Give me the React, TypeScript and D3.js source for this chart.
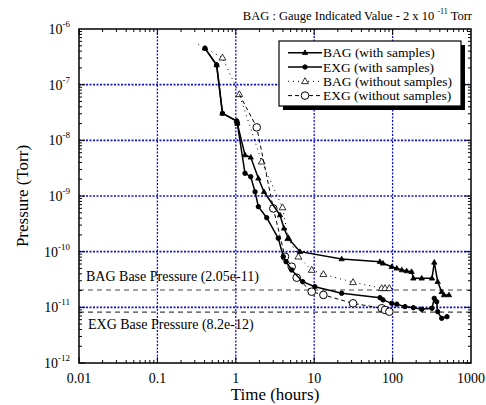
import React, { useEffect, useRef } from 'react';
import * as d3 from 'd3';

// time in hours, pressure in Torr
const bagWithT = [0.405, 0.57, 0.676, 1.03, 1.045, 1.31, 1.55, 1.94, 2.29, 3.66, 4.12, 4.67, 6.59, 22.4, 69, 75.5, 97.5, 113, 131, 151, 175, 184, 235, 318, 340, 376, 423, 452, 524];
const bagWithP = [4.5e-7, 2.26e-7, 3.06e-8, 2.22e-8, 2.02e-8, 5.45e-9, 4.96e-9, 2.08e-9, 1.19e-9, 4.56e-10, 2.63e-10, 1.74e-10, 1.0e-10, 7.4e-11, 6.61e-11, 6.18e-11, 5.37e-11, 5.03e-11, 4.69e-11, 4.5e-11, 4.37e-11, 3.33e-11, 3.33e-11, 3.33e-11, 6.44e-11, 2.89e-11, 1.9e-11, 1.67e-11, 1.67e-11];

const exgWithT = [0.405, 0.57, 0.676, 1.03, 1.045, 1.31, 1.55, 1.76, 1.94, 2.48, 3.48, 4.04, 4.37, 5.16, 7.13, 10.2, 22.4, 69, 75.5, 97.5, 113, 144, 184, 235, 318, 340, 365, 376, 423, 494];
const exgWithP = [4.5e-7, 2.26e-7, 3.06e-8, 2.22e-8, 2.02e-8, 2.56e-9, 2.22e-9, 1.19e-9, 6.43e-10, 4.07e-10, 1.74e-10, 8.13e-11, 6.61e-11, 4.69e-11, 2.89e-11, 2.35e-11, 1.79e-11, 1.49e-11, 1.36e-11, 1.18e-11, 1.14e-11, 1.03e-11, 9.86e-12, 9.23e-12, 9.62e-12, 1.45e-11, 1.26e-11, 8.35e-12, 6.35e-12, 6.79e-12];

const bagWithoutT = [0.333, 0.676, 1.11, 2.14, 3.94, 4.67, 6.27, 9.29, 13.1, 31.3, 72.6, 80, 90.8];
const bagWithoutP = [5.31e-7, 3.05e-7, 6.71e-8, 4.13e-9, 6.22e-10, 1.74e-10, 8.13e-11, 4.69e-11, 3.93e-11, 2.82e-11, 2.2e-11, 2.2e-11, 2.2e-11];

const exgWithoutT = [1.11, 1.85, 3.01, 4.24, 5.16, 5.98, 9.29, 13.1, 31.3, 72.6, 80, 90.8];
const exgWithoutP = [6.71e-8, 1.71e-8, 5.97e-10, 8.13e-11, 5.37e-11, 3.41e-11, 1.91e-11, 1.67e-11, 1.18e-11, 9.62e-12, 8.96e-12, 8.35e-12];

const xTickLabels = ['0.01', '0.1', '1', '10', '100', '1000'];
const yExponents = [-6, -7, -8, -9, -10, -11, -12];

const bagBase = 2.05e-11;
const exgBase = 8.2e-12;

const series = [
  { name: 'BAG (with samples)', t: bagWithT, p: bagWithP, marker: 'tri', fill: true, dash: null, skipFirst: false },
  { name: 'EXG (with samples)', t: exgWithT, p: exgWithP, marker: 'circ', fill: true, dash: null, skipFirst: false },
  { name: 'BAG (without samples)', t: bagWithoutT, p: bagWithoutP, marker: 'tri', fill: false, dash: '1,4', skipFirst: true },
  { name: 'EXG (without samples)', t: exgWithoutT, p: exgWithoutP, marker: 'circ', fill: false, dash: '4,3', skipFirst: true },
];

const FONT = "'Liberation Serif', 'DejaVu Serif', 'Times New Roman', Times, serif";

const App = () => {
  const svgRef = useRef(null);

  useEffect(() => {
    const svg = d3.select(svgRef.current);
    svg.selectAll('*').remove();

    const left = 79, right = 471, top = 29, bottom = 363;
    const x = d3.scaleLog().domain([0.01, 1000]).range([left, right]);
    const y = d3.scaleLog().domain([1e-12, 1e-6]).range([bottom, top]);

    // grid
    const grid = svg.append('g');
    [0.1, 1, 10, 100].forEach(v => {
      grid.append('line')
        .attr('x1', x(v)).attr('x2', x(v)).attr('y1', top).attr('y2', bottom)
        .attr('stroke', '#1010d0').attr('stroke-width', 1.3).attr('stroke-dasharray', '2,1.5');
    });
    yExponents.slice(1, -1).forEach(e => {
      grid.append('line')
        .attr('x1', left).attr('x2', right).attr('y1', y(Math.pow(10, e))).attr('y2', y(Math.pow(10, e)))
        .attr('stroke', '#1010d0').attr('stroke-width', 1.6).attr('stroke-dasharray', '2,1.5');
    });

    // base pressure lines
    [bagBase, exgBase].forEach(v => {
      svg.append('line')
        .attr('x1', left).attr('x2', right).attr('y1', y(v)).attr('y2', y(v))
        .attr('stroke', '#444').attr('stroke-width', 1.2).attr('stroke-dasharray', '5,4');
    });
    svg.append('text').attr('x', 86).attr('y', y(bagBase) - 9)
      .attr('font-size', 14).text('BAG Base Pressure (2.05e-11)');
    svg.append('text').attr('x', 88).attr('y', y(exgBase) + 17)
      .attr('font-size', 14).text('EXG Base Pressure (8.2e-12)');

    // ticks (inward, all four sides)
    const ticks = svg.append('g').attr('stroke', '#000').attr('stroke-width', 1);
    for (let d = -2; d < 3; d++) {
      for (let m = 1; m < 10; m++) {
        const v = m * Math.pow(10, d);
        const len = m === 1 ? 6 : 3;
        const px = x(v);
        ticks.append('line').attr('x1', px).attr('x2', px).attr('y1', bottom).attr('y2', bottom - len);
        ticks.append('line').attr('x1', px).attr('x2', px).attr('y1', top).attr('y2', top + len);
      }
    }
    for (let d = -12; d < -6; d++) {
      for (let m = 1; m < 10; m++) {
        const v = m * Math.pow(10, d);
        const len = m === 1 ? 6 : 3;
        const py = y(v);
        ticks.append('line').attr('x1', left).attr('x2', left + len).attr('y1', py).attr('y2', py);
        ticks.append('line').attr('x1', right).attr('x2', right - len).attr('y1', py).attr('y2', py);
      }
    }

    // frame
    svg.append('rect').attr('x', left).attr('y', top).attr('width', right - left).attr('height', bottom - top)
      .attr('fill', 'none').attr('stroke', '#000').attr('stroke-width', 1.5);

    // tick labels
    xTickLabels.forEach(l => {
      svg.append('text').attr('x', x(+l)).attr('y', 383).attr('text-anchor', 'middle')
        .attr('font-size', 14).text(l);
    });
    yExponents.forEach(e => {
      const t = svg.append('text').attr('x', 70).attr('y', y(Math.pow(10, e)) + 5).attr('text-anchor', 'end')
        .attr('font-size', 14);
      t.append('tspan').text('10');
      t.append('tspan').attr('dy', -7).attr('font-size', 9).text(String(e));
    });

    // axis titles
    svg.append('text').attr('x', (left + right) / 2).attr('y', 400).attr('text-anchor', 'middle')
      .attr('font-size', 17).text('Time (hours)');
    svg.append('text').attr('transform', `translate(28,${(top + bottom) / 2}) rotate(-90)`).attr('text-anchor', 'middle')
      .attr('font-size', 17).text('Pressure (Torr)');

    // title
    const title = svg.append('text').attr('x', 472).attr('y', 20).attr('text-anchor', 'end')
      .attr('font-size', 12.5);
    title.append('tspan').text('BAG : Gauge Indicated Value - 2 x 10 ');
    title.append('tspan').attr('dy', -6).attr('font-size', 8).text('-11');
    title.append('tspan').attr('dy', 6).text('  Torr');

    const drawMarker = (g, s, cx, cy) => {
      if (s.marker === 'tri') {
        const r = s.fill ? 2.8 : 3.6;
        g.append('path')
          .attr('d', `M${cx},${cy - r}L${cx + r * 0.95},${cy + r * 0.65}L${cx - r * 0.95},${cy + r * 0.65}Z`)
          .attr('fill', s.fill ? '#000' : '#fff').attr('stroke', '#000').attr('stroke-width', 0.8);
      } else {
        g.append('circle').attr('cx', cx).attr('cy', cy).attr('r', s.fill ? 2.2 : 3.8)
          .attr('fill', s.fill ? '#000' : '#fff').attr('stroke', '#000').attr('stroke-width', 1);
      }
    };

    // series (draw "without" first so solid lines sit on top)
    const line = d3.line().x(d => x(d[0])).y(d => y(d[1]));
    [2, 3, 0, 1].forEach(i => {
      const s = series[i];
      const pts = s.t.map((t, k) => [t, s.p[k]]);
      const g = svg.append('g');
      g.append('path').attr('d', line(pts)).attr('fill', 'none').attr('stroke', '#000')
        .attr('stroke-width', s.dash ? 1 : 1.5).attr('stroke-dasharray', s.dash);
      pts.forEach((d, k) => {
        if (s.skipFirst && k === 0) return;
        drawMarker(g, s, x(d[0]), y(d[1]));
      });
    });

    // legend
    const lg = svg.append('g');
    lg.append('rect').attr('x', 283).attr('y', 45).attr('width', 182).attr('height', 65).attr('fill', '#000');
    lg.append('rect').attr('x', 279).attr('y', 41).attr('width', 182).attr('height', 65)
      .attr('fill', '#fff').attr('stroke', '#000').attr('stroke-width', 1.2);
    series.forEach((s, i) => {
      const ly = 52.7 + i * 14.3;
      lg.append('line').attr('x1', 288).attr('x2', 322).attr('y1', ly).attr('y2', ly)
        .attr('stroke', '#000').attr('stroke-width', s.dash ? 1 : 1.5).attr('stroke-dasharray', s.dash);
      drawMarker(lg, s, 305, ly);
      lg.append('text').attr('x', 323).attr('y', ly + 4.5)
        .attr('font-size', 13.5).text(s.name);
    });
  }, []);

  return (
    <svg ref={svgRef} width={486} height={405} fontFamily={FONT}
      style={{ position: 'absolute', left: 0, top: 0, background: '#fff' }} />
  );
};

export default App;
